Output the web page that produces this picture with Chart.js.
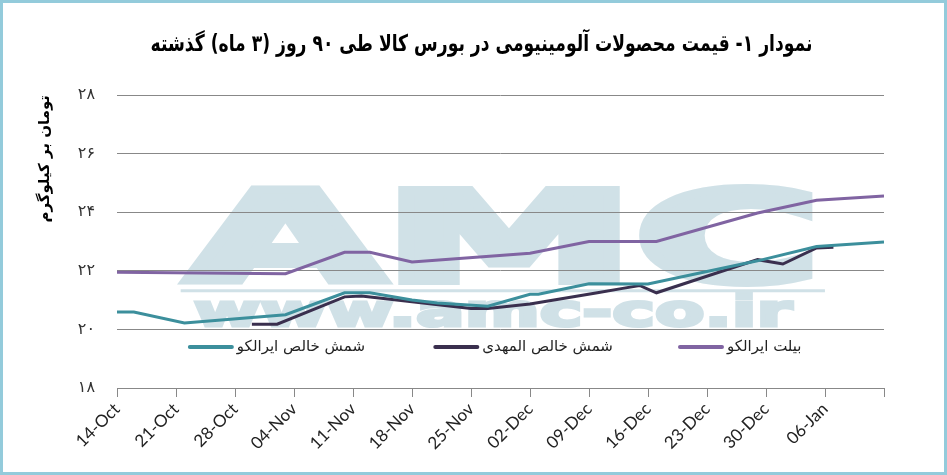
<!DOCTYPE html>
<html>
<head>
<meta charset="utf-8">
<script src="https://cdn.jsdelivr.net/npm/chart.js@4"></script>
<style>
  html, body { margin: 0; padding: 0; background: #fff; }
  #wrap {
    width: 947px; height: 475px; box-sizing: border-box;
    border: 3px solid #93cbdb; background: #fff;
  }
  #wrap canvas { display: block; }
</style>
</head>
<body>
<div id="wrap"><canvas id="chart" width="941" height="469"></canvas></div>
<script>
// ── Data (x = days since 14-Oct) ──
var TITLE = 'نمودار ۱- قیمت محصولات آلومینیومی در بورس کالا طی ۹۰ روز (۳ ماه) گذشته';
var Y_TITLE = 'تومان بر کیلوگرم';

var xTickLabels = ['14-Oct', '21-Oct', '28-Oct', '04-Nov', '11-Nov', '18-Nov', '25-Nov',
                   '02-Dec', '09-Dec', '16-Dec', '23-Dec', '30-Dec', '06-Jan', ''];

var seriesNames = ['شمش خالص ایرالکو', 'شمش خالص المهدی', 'بیلت ایرالکو'];

var iralcoIngotDays   = [0, 2, 8, 20, 27, 30, 35, 38, 44, 49, 50, 56, 63, 76, 83, 91];
var iralcoIngotValues = [20.59, 20.59, 20.22, 20.5, 21.25, 21.25, 21.0, 20.9, 20.79,
                         21.2, 21.2, 21.56, 21.55, 22.34, 22.83, 22.98];

var mahdiIngotDays   = [16, 19, 27, 29, 35, 42, 44, 49, 57, 60, 62, 64, 76, 79, 83, 85];
var mahdiIngotValues = [20.18, 20.18, 21.11, 21.14, 20.94, 20.71, 20.71, 20.87, 21.25,
                        21.4, 21.5, 21.25, 22.38, 22.23, 22.78, 22.8];

var iralcoBilletDays   = [0, 20, 27, 30, 35, 49, 56, 64, 76, 83, 91];
var iralcoBilletValues = [21.95, 21.9, 22.63, 22.63, 22.3, 22.6, 23.0, 23.0, 23.97, 24.41, 24.55];

var COLORS = ['#3c8f9c', '#3a2f4e', '#8064a2'];

// ── Helpers ──
function toPoints(days, values) {
  var pts = [];
  for (var i = 0; i < days.length; i++) pts.push({ x: days[i], y: values[i] });
  return pts;
}

function persianDigits(v) {
  var fa = '۰۱۲۳۴۵۶۷۸۹';
  return String(v).replace(/[0-9]/g, function(d) { return fa[d]; });
}

// stretch a text horizontally so it fills a given width (optionally thickened)
function stretchedText(ctx, text, x, y, width, thicken) {
  var tw = ctx.measureText(text).width;
  ctx.save();
  ctx.translate(x, y);
  ctx.scale(width / tw, 1);
  ctx.fillText(text, 0, 0);
  if (thicken) {
    ctx.lineWidth = thicken;
    ctx.lineJoin = 'miter';
    ctx.strokeStyle = ctx.fillStyle;
    ctx.strokeText(text, 0, 0);
  }
  ctx.restore();
}

// ── Title (centred on the whole canvas) ──
var pageTitle = {
  id: 'pageTitle',
  afterDraw: function(chart) {
    var ctx = chart.ctx;
    ctx.save();
    ctx.fillStyle = '#000';
    ctx.textBaseline = 'middle';
    ctx.textAlign = 'center';
    ctx.font = 'bold 23px "DejaVu Sans"';
    var tw = ctx.measureText(TITLE).width;
    ctx.translate(chart.width / 2 + 8, 42);
    ctx.scale(662 / tw, 1);
    ctx.fillText(TITLE, 0, 0);
    ctx.restore();
  }
};

// ── Watermark behind the grid ──
var watermark = {
  id: 'watermark',
  beforeDraw: function(chart) {
    var a = chart.chartArea, ctx = chart.ctx;
    var w = a.right - a.left, h = a.bottom - a.top;
    ctx.save();
    ctx.fillStyle = '#d0e1e7';
    ctx.textBaseline = 'alphabetic';
    ctx.textAlign = 'left';

    ctx.font = 'bold 124px "DejaVu Sans"';
    stretchedText(ctx, 'AMC', a.left + 0.092 * w, a.top + 0.636 * h, 0.825 * w, 8);

    ctx.fillRect(a.left + 0.083 * w, a.top + 0.663 * h, 0.84 * w, 3);

    ctx.font = 'bold 44px "DejaVu Sans"';
    stretchedText(ctx, 'www.amc-co.ir', a.left + 0.1 * w, a.top + 0.788 * h, 0.78 * w, 3);
    ctx.restore();
  }
};

// ── Legend drawn inside the plot ──
var insideLegend = {
  id: 'insideLegend',
  afterDatasetsDraw: function(chart) {
    var a = chart.chartArea, ctx = chart.ctx;
    var w = a.right - a.left, h = a.bottom - a.top;
    var starts = [0.095, 0.415, 0.734];
    var y = a.top + 0.86 * h;
    ctx.save();
    ctx.font = '15px "DejaVu Sans"';
    ctx.textBaseline = 'middle';
    ctx.textAlign = 'left';
    chart.data.datasets.forEach(function(ds, i) {
      var x = a.left + starts[i] * w;
      ctx.strokeStyle = ds.borderColor;
      ctx.lineWidth = 4;
      ctx.lineCap = 'round';
      ctx.beginPath();
      ctx.moveTo(x, y);
      ctx.lineTo(x + 42, y);
      ctx.stroke();
      ctx.fillStyle = '#222';
      ctx.fillText(ds.label, x + 47, y);
    });
    ctx.restore();
  }
};

var datasets = [
  toPoints(iralcoIngotDays, iralcoIngotValues),
  toPoints(mahdiIngotDays, mahdiIngotValues),
  toPoints(iralcoBilletDays, iralcoBilletValues)
].map(function(pts, i) {
  return {
    label: seriesNames[i],
    data: pts,
    borderColor: COLORS[i],
    backgroundColor: COLORS[i],
    borderWidth: 3,
    pointRadius: 0,
    tension: 0,
    fill: false
  };
});

new Chart(document.getElementById('chart'), {
  type: 'line',
  data: { datasets: datasets },
  plugins: [watermark, insideLegend, pageTitle],
  options: {
    responsive: false,
    animation: false,
    layout: { padding: { left: 0, right: 60, top: 92, bottom: 0 } },
    plugins: {
      legend: { display: false },
      tooltip: { enabled: false },
      title: { display: false }
    },
    scales: {
      x: {
        type: 'linear',
        min: 0,
        max: 91,
        afterFit: function(s) { s.height = 84; },
        ticks: {
          stepSize: 7,
          autoSkip: false,
          maxRotation: 45,
          minRotation: 45,
          padding: 2,
          color: '#222',
          font: { family: 'Lato', size: 17 },
          callback: function(v, i) { return xTickLabels[i]; }
        },
        grid: { drawOnChartArea: false, drawTicks: true, tickLength: 9, color: '#888' },
        border: { display: true, color: '#888', width: 1 }
      },
      y: {
        min: 18,
        max: 28,
        afterFit: function(s) { s.width = 114; },
        ticks: {
          stepSize: 2,
          padding: 22,
          color: '#333',
          font: { family: '"DejaVu Sans"', size: 16 },
          callback: function(v) { return persianDigits(v); }
        },
        grid: { color: '#888', lineWidth: 1, drawTicks: false },
        border: { display: false },
        title: {
          display: true,
          text: Y_TITLE,
          align: 'end',
          color: '#000',
          font: { family: '"DejaVu Sans"', size: 15, weight: 'bold' },
          padding: { top: 33, bottom: 0 }
        }
      }
    }
  }
});
</script>
</body>
</html>
